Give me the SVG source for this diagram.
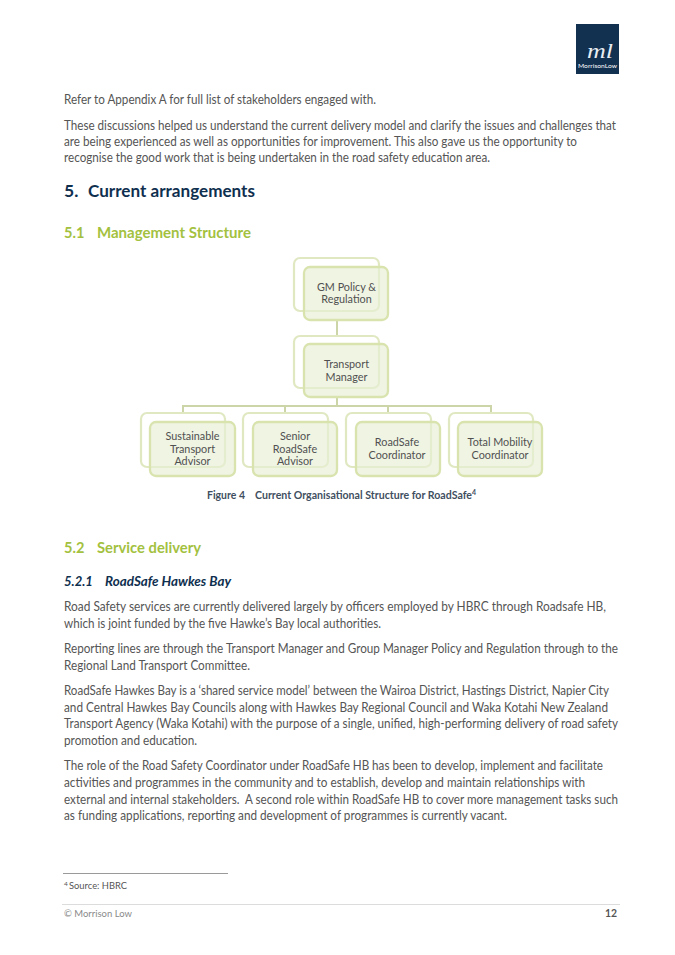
<svg xmlns="http://www.w3.org/2000/svg" width="675" height="955" viewBox="0 0 675 955">
<style>
text{font-family:"Lato","Carlito","Liberation Sans",sans-serif}
.b{font-size:12.6px;fill:#555}
.n{font-size:10.8px;fill:#505050;text-anchor:middle}
.back{fill:#fff;stroke:#e0e8c2;stroke-width:2.2}
.front{fill:#e8efd6;fill-opacity:.68;stroke:#d8e3ae;stroke-width:2.3}
.con{fill:none;stroke:#ccd5a8;stroke-width:2}
.h1{font-size:17.5px;font-weight:700;fill:#0f2f4f}
.h2{font-size:14.6px;font-weight:700;fill:#a3c13f}
</style>
<rect width="675" height="955" fill="#fff"/>
<g id="logo">
<rect x="576" y="24" width="43" height="50" fill="#12304f"/>
<text x="587" y="58" font-size="22" font-style="italic" fill="#e8edf2" style="font-family:'Liberation Serif',serif" textLength="26" lengthAdjust="spacingAndGlyphs">ml</text>
<text x="578" y="68" font-size="6" fill="#fff" textLength="39" lengthAdjust="spacingAndGlyphs">MorrisonLow</text>
</g>
<g id="body-top">
<text class="b" x="64" y="104" textLength="312" lengthAdjust="spacingAndGlyphs">Refer to Appendix A for full list of stakeholders engaged with.</text>
<text class="b" x="64" y="130" textLength="552" lengthAdjust="spacingAndGlyphs">These discussions helped us understand the current delivery model and clarify the issues and challenges that</text>
<text class="b" x="64" y="146" textLength="513" lengthAdjust="spacingAndGlyphs">are being experienced as well as opportunities for improvement. This also gave us the opportunity to</text>
<text class="b" x="64" y="162" textLength="426" lengthAdjust="spacingAndGlyphs">recognise the good work that is being undertaken in the road safety education area.</text>
<text class="h1" x="64" y="197">5.</text>
<text class="h1" x="88" y="197" textLength="167" lengthAdjust="spacingAndGlyphs">Current arrangements</text>
<text class="h2" x="64" y="238">5.1</text>
<text class="h2" x="97" y="238" textLength="154" lengthAdjust="spacingAndGlyphs">Management Structure</text>
</g>
<g id="connectors">
<path class="con" d="M337 320V336M337 397V406M183 413V406H491V413M285 406V413M388 406V413"/>
</g>
<g id="node-gm">
<rect class="back" x="294" y="258" width="85" height="53" rx="6"/>
<rect class="front" x="304" y="267" width="84" height="53" rx="6"/>
<text class="n" x="346.500" y="291">GM Policy &amp;</text>
<text class="n" x="346.500" y="303">Regulation</text>
</g>
<g id="node-transport">
<rect class="back" x="294" y="336" width="85" height="52" rx="6"/>
<rect class="front" x="304" y="344" width="84" height="53" rx="6"/>
<text class="n" x="346.500" y="368">Transport</text>
<text class="n" x="346.500" y="381">Manager</text>
</g>
<g id="node-sustainable">
<rect class="back" x="141" y="413" width="84" height="54" rx="6"/>
<rect class="front" x="150" y="422" width="85" height="54" rx="6"/>
<text class="n" x="192.500" y="440">Sustainable</text>
<text class="n" x="192.500" y="453">Transport</text>
<text class="n" x="192.500" y="465">Advisor</text>
</g>
<g id="node-senior">
<rect class="back" x="243" y="413" width="85" height="54" rx="6"/>
<rect class="front" x="253" y="422" width="84" height="54" rx="6"/>
<text class="n" x="295" y="440">Senior</text>
<text class="n" x="295" y="453">RoadSafe</text>
<text class="n" x="295" y="465">Advisor</text>
</g>
<g id="node-roadsafe">
<rect class="back" x="346" y="413" width="85" height="54" rx="6"/>
<rect class="front" x="356" y="422" width="84" height="54" rx="6"/>
<text class="n" x="397" y="446">RoadSafe</text>
<text class="n" x="397" y="459">Coordinator</text>
</g>
<g id="node-total">
<rect class="back" x="449" y="413" width="84" height="54" rx="6"/>
<rect class="front" x="458" y="422" width="84" height="54" rx="6"/>
<text class="n" x="500" y="446">Total Mobility</text>
<text class="n" x="500" y="459">Coordinator</text>
</g>
<g id="body-bottom">
<text x="207" y="499" font-size="10.400" font-weight="700" fill="#3f4f5f" textLength="38" lengthAdjust="spacingAndGlyphs">Figure 4</text>
<text x="255" y="499" font-size="10.400" font-weight="700" fill="#3f4f5f" textLength="217" lengthAdjust="spacingAndGlyphs">Current Organisational Structure for RoadSafe</text>
<text x="472" y="495" font-size="7" font-weight="700" fill="#3f4f5f">4</text>
<text class="h2" x="64" y="553">5.2</text>
<text class="h2" x="97" y="553" textLength="104" lengthAdjust="spacingAndGlyphs">Service delivery</text>
<text x="64" y="586" font-size="13" font-weight="700" font-style="italic" fill="#0f2f4f">5.2.1</text>
<text x="105" y="586" font-size="13" font-weight="700" font-style="italic" fill="#0f2f4f" textLength="126" lengthAdjust="spacingAndGlyphs">RoadSafe Hawkes Bay</text>
<text class="b" x="64" y="611" textLength="542" lengthAdjust="spacingAndGlyphs">Road Safety services are currently delivered largely by officers employed by HBRC through Roadsafe HB,</text>
<text class="b" x="64" y="628" textLength="317" lengthAdjust="spacingAndGlyphs">which is joint funded by the five Hawke’s Bay local authorities.</text>
<text class="b" x="64" y="653" textLength="554" lengthAdjust="spacingAndGlyphs">Reporting lines are through the Transport Manager and Group Manager Policy and Regulation through to the</text>
<text class="b" x="64" y="670" textLength="186" lengthAdjust="spacingAndGlyphs">Regional Land Transport Committee.</text>
<text class="b" x="64" y="695" textLength="545" lengthAdjust="spacingAndGlyphs">RoadSafe Hawkes Bay is a ‘shared service model’ between the Wairoa District, Hastings District, Napier City</text>
<text class="b" x="64" y="712" textLength="544" lengthAdjust="spacingAndGlyphs">and Central Hawkes Bay Councils along with Hawkes Bay Regional Council and Waka Kotahi New Zealand</text>
<text class="b" x="64" y="728" textLength="554" lengthAdjust="spacingAndGlyphs">Transport Agency (Waka Kotahi) with the purpose of a single, unified, high-performing delivery of road safety</text>
<text class="b" x="64" y="745" textLength="133" lengthAdjust="spacingAndGlyphs">promotion and education.</text>
<text class="b" x="64" y="770" textLength="539" lengthAdjust="spacingAndGlyphs">The role of the Road Safety Coordinator under RoadSafe HB has been to develop, implement and facilitate</text>
<text class="b" x="64" y="787" textLength="521" lengthAdjust="spacingAndGlyphs">activities and programmes in the community and to establish, develop and maintain relationships with</text>
<text class="b" x="64" y="804" textLength="554" lengthAdjust="spacingAndGlyphs" xml:space="preserve">external and internal stakeholders.  A second role within RoadSafe HB to cover more management tasks such</text>
<text class="b" x="64" y="820" textLength="443" lengthAdjust="spacingAndGlyphs">as funding applications, reporting and development of programmes is currently vacant.</text>
</g>
<g id="footer">
<line x1="63" y1="873.500" x2="228" y2="873.500" stroke="#9a9a9a"/>
<text x="64" y="886" font-size="6.500" fill="#555">4</text>
<text x="69" y="889" font-size="10" fill="#555" textLength="58" lengthAdjust="spacingAndGlyphs">Source: HBRC</text>
<line x1="62" y1="904.500" x2="620" y2="904.500" stroke="#dcdcdc"/>
<text x="64" y="917" font-size="10.400" fill="#8a8a8a" textLength="68" lengthAdjust="spacingAndGlyphs">© Morrison Low</text>
<text x="617" y="917" font-size="10.400" font-weight="700" fill="#555" text-anchor="end">12</text>
</g>
</svg>
